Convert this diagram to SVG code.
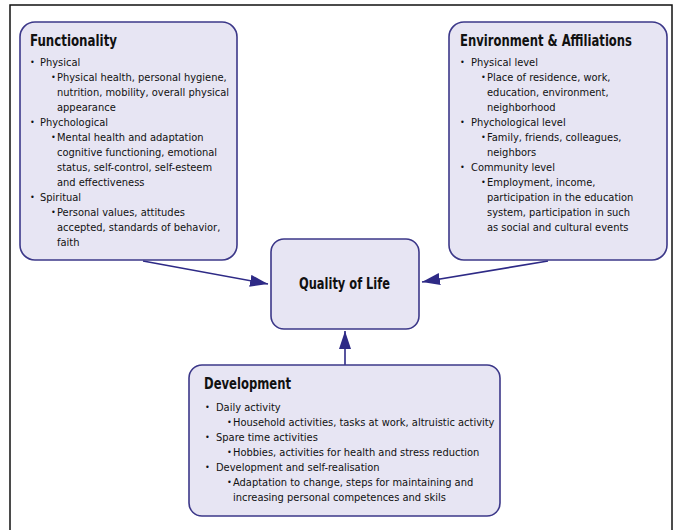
<svg xmlns="http://www.w3.org/2000/svg" width="675" height="530" viewBox="0 0 675 530">
<style>
.box{fill:#e7e5f3;stroke:#3c3889;stroke-width:1.6}
.t{font-family:"DejaVu Sans Condensed","Liberation Sans Narrow","Liberation Sans",sans-serif;font-size:11px;fill:#111}
.b{font-family:"DejaVu Sans Condensed","Liberation Sans",sans-serif;font-size:9px;fill:#111}
.h{font-family:"DejaVu Sans Condensed","Liberation Sans Narrow","Liberation Sans",sans-serif;font-size:15px;font-weight:bold;fill:#111}
.c{stroke:#2e2a86;stroke-width:1.6;fill:none}
</style>
<defs>
<marker id="ah" viewBox="0 0 18 12" refX="18" refY="6" markerWidth="18" markerHeight="12" markerUnits="userSpaceOnUse" orient="auto">
<path d="M0,0 L18,6 L0,12 Z" fill="#2e2a86"/>
</marker>
</defs>
<rect x="10" y="5" width="662" height="540" fill="#fff" stroke="#111" stroke-width="1.5"/>
<g id="connectors">
<line class="c" x1="143" y1="261" x2="268" y2="284" marker-end="url(#ah)"/>
<line class="c" x1="548" y1="261" x2="422" y2="282" marker-end="url(#ah)"/>
<line class="c" x1="345" y1="365" x2="345" y2="331" marker-end="url(#ah)"/>
</g>
<g id="functionality">
<rect class="box" x="20" y="22" width="217" height="238" rx="15"/>
<text class="h" x="30" y="46" textLength="87" lengthAdjust="spacingAndGlyphs">Functionality</text>
<text class="b" x="30" y="65">•</text><text class="t" x="40" y="66">Physical</text>
<text class="b" x="51" y="80">•</text><text class="t" x="57" y="81">Physical health, personal hygiene,</text>
<text class="t" x="57" y="96">nutrition, mobility, overall physical</text>
<text class="t" x="57" y="111">appearance</text>
<text class="b" x="30" y="125">•</text><text class="t" x="40" y="126">Phychological</text>
<text class="b" x="51" y="140">•</text><text class="t" x="57" y="141">Mental health and adaptation</text>
<text class="t" x="57" y="156">cognitive functioning, emotional</text>
<text class="t" x="57" y="171">status, self-control, self-esteem</text>
<text class="t" x="57" y="186">and effectiveness</text>
<text class="b" x="30" y="200">•</text><text class="t" x="40" y="201">Spiritual</text>
<text class="b" x="51" y="215">•</text><text class="t" x="57" y="216">Personal values, attitudes</text>
<text class="t" x="57" y="231">accepted, standards of behavior,</text>
<text class="t" x="57" y="246">faith</text>
</g>
<g id="environment">
<rect class="box" x="449" y="22" width="218" height="238" rx="15"/>
<text class="h" x="460" y="46" textLength="172" lengthAdjust="spacingAndGlyphs">Environment &amp; Affiliations</text>
<text class="b" x="460" y="65">•</text><text class="t" x="471" y="66">Physical level</text>
<text class="b" x="481" y="80">•</text><text class="t" x="487" y="81">Place of residence, work,</text>
<text class="t" x="487" y="96">education, environment,</text>
<text class="t" x="487" y="111">neighborhood</text>
<text class="b" x="460" y="125">•</text><text class="t" x="471" y="126">Phychological level</text>
<text class="b" x="481" y="140">•</text><text class="t" x="487" y="141">Family, friends, colleagues,</text>
<text class="t" x="487" y="156">neighbors</text>
<text class="b" x="460" y="170">•</text><text class="t" x="471" y="171">Community level</text>
<text class="b" x="481" y="185">•</text><text class="t" x="487" y="186">Employment, income,</text>
<text class="t" x="487" y="201">participation in the education</text>
<text class="t" x="487" y="216">system, participation in such</text>
<text class="t" x="487" y="231">as social and cultural events</text>
</g>
<g id="quality">
<rect class="box" x="271" y="239" width="148" height="90" rx="13"/>
<text class="h" x="299" y="289" textLength="91" lengthAdjust="spacingAndGlyphs">Quality of Life</text>
</g>
<g id="development">
<rect class="box" x="189" y="365" width="311" height="151" rx="13"/>
<text class="h" x="204" y="389" textLength="87" lengthAdjust="spacingAndGlyphs">Development</text>
<text class="b" x="205" y="410">•</text><text class="t" x="216" y="411">Daily activity</text>
<text class="b" x="227" y="425">•</text><text class="t" x="233" y="426">Household activities, tasks at work, altruistic activity</text>
<text class="b" x="205" y="440">•</text><text class="t" x="216" y="441">Spare time activities</text>
<text class="b" x="227" y="455">•</text><text class="t" x="233" y="456">Hobbies, activities for health and stress reduction</text>
<text class="b" x="205" y="470">•</text><text class="t" x="216" y="471">Development and self-realisation</text>
<text class="b" x="227" y="485">•</text><text class="t" x="233" y="486">Adaptation to change, steps for maintaining and</text>
<text class="t" x="233" y="501">increasing personal competences and skils</text>
</g>
</svg>
